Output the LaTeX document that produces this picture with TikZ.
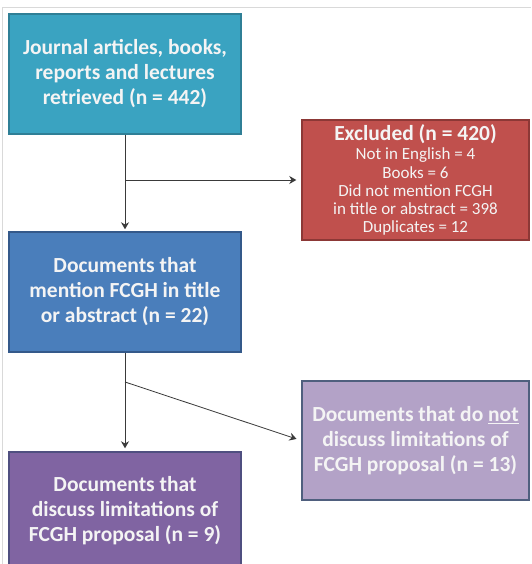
\documentclass[tikz,border=0pt]{standalone}
\usepackage{fontspec}
\setmainfont{Carlito}
\usetikzlibrary{arrows.meta}
\definecolor{tealbox}{HTML}{3AA3C1}
\definecolor{tealedge}{HTML}{2F7F96}
\definecolor{redbox}{HTML}{C0504D}
\definecolor{rededge}{HTML}{8C3836}
\definecolor{bluebox}{HTML}{4A7EBB}
\definecolor{blueedge}{HTML}{34598A}
\definecolor{lavbox}{HTML}{B3A2C7}
\definecolor{lavedge}{HTML}{4F5F7E}
\definecolor{purpbox}{HTML}{8064A2}
\definecolor{purpedge}{HTML}{4F4F80}
\definecolor{txt}{HTML}{F4F4F4}
\definecolor{conn}{HTML}{3A3A3A}
\tikzset{
  box/.style={draw, line width=1.5pt, minimum width=232pt, minimum height=120pt,
    align=center, text=txt, font=\fontsize{21.5}{25}\selectfont\bfseries, inner sep=0pt},
  link/.style={draw=conn, line width=0.8pt},
  arr/.style={link, -{Stealth[length=7pt,width=8pt]}}
}
\begin{document}
\begin{tikzpicture}[x=1pt,y=-1pt]
\useasboundingbox (0,0) rectangle (531,564);
\clip (0,0) rectangle (531,564);
\fill[white] (0,0) rectangle (531,564);
\draw[black!15, line width=0.8pt] (2,564) -- (2,7) -- (531,7);
\node[box, fill=tealbox, draw=tealedge] (b1) at (125,74)
  {Journal articles, books,\\reports and lectures\\retrieved (n = 442)};
\node[box, fill=redbox, draw=rededge, minimum width=227pt, font=\fontsize{17}{18.2}\selectfont] (b2) at (415.5,180)
  {{\fontsize{21.5}{22}\selectfont\bfseries Excluded (n = 420)}\\[1pt]Not in English = 4\\Books = 6\\Did not mention FCGH\\in title or abstract = 398\\Duplicates = 12};
\node[box, fill=bluebox, draw=blueedge] (b3) at (125,292)
  {Documents that\\mention FCGH in title\\or abstract (n = 22)};
\node[box, fill=lavbox, draw=lavedge, minimum width=227pt, minimum height=119pt] (b4) at (415.5,440.5)
  {Documents that do \underline{not}\\discuss limitations of\\FCGH proposal (n = 13)};
\node[box, fill=purpbox, draw=purpedge, minimum height=118pt] (b5) at (125,511)
  {Documents that\\discuss limitations of\\FCGH proposal (n = 9)};
\coordinate (j1) at (b1.south |- 0,180);
\coordinate (j2) at (b3.south |- 0,382);
\draw[arr, shorten >=2pt] (b1.south) -- (b3.north);
\draw[arr, shorten >=5pt] (j1) -- (b2.west |- j1);
\draw[arr, shorten >=3pt] (b3.south) -- (b5.north);
\draw[arr, shorten >=5pt] (j2) -- (b4.west);
\end{tikzpicture}
\end{document}
